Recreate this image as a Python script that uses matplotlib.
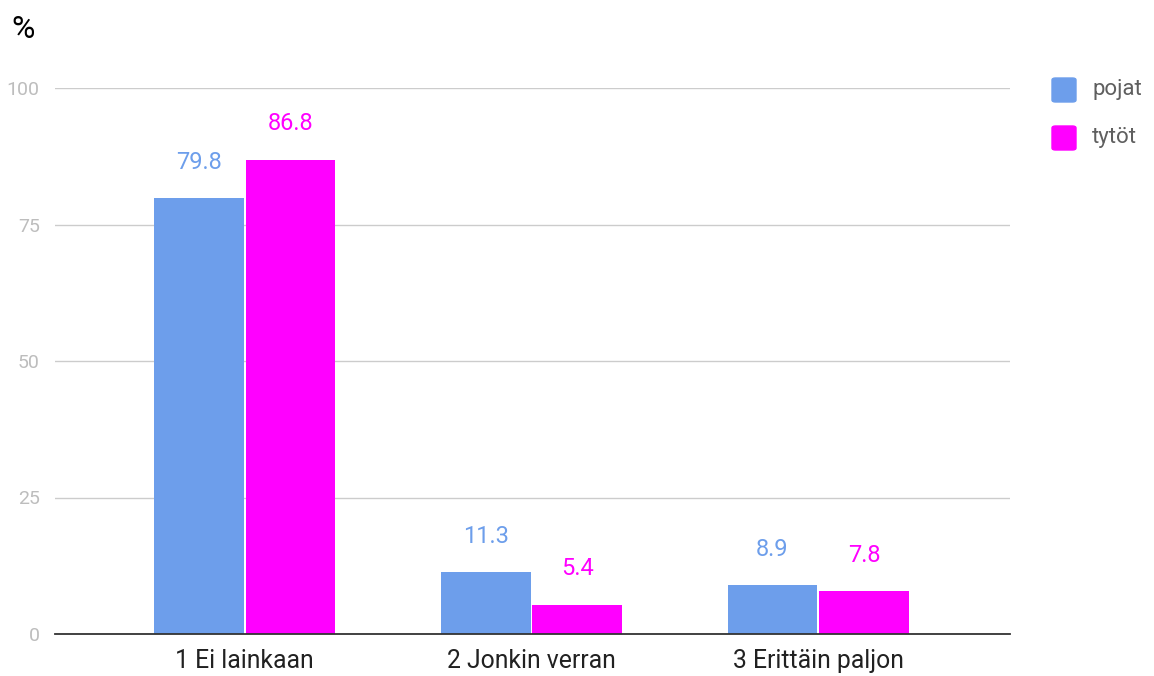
import matplotlib
matplotlib.use("Agg")
import matplotlib.pyplot as plt
from matplotlib.patches import FancyBboxPatch
import numpy as np

plt.rcParams['font.family'] = ['Roboto', 'DejaVu Sans']

categories = ['1 Ei lainkaan', '2 Jonkin verran', '3 Erittäin paljon']
pojat = [79.8, 11.3, 8.9]
tytot = [86.8, 5.4, 7.8]
series_names = ['pojat', 'tytöt']
colors = ['#6d9eeb', '#ff00ff']
yticks = [0, 25, 50, 75, 100]

fig = plt.figure(figsize=(11.54, 6.76), dpi=100)
ax = fig.add_axes([55 / 1154, 1 - 634 / 676, 955 / 1154, 546 / 676])

x = np.arange(len(categories))
w = 0.313
gap = 0.006
for vals, off, col in [(pojat, -(w + gap) / 2, colors[0]), (tytot, (w + gap) / 2, colors[1])]:
    ax.bar(x + off, vals, width=w, color=col, zorder=3)
    for xi, v in zip(x + off, vals):
        ax.annotate(f'{v:.1f}', (xi, v), xytext=(0, 26), textcoords='offset points',
                    ha='center', va='center', fontsize=17, color=col)

ax.set_xlim(-0.662, 2.669)
ax.set_ylim(0, 100)
ax.set_yticks(yticks)
ax.set_yticklabels([str(t) for t in yticks], color='#bdbdbd', fontsize=14)
ax.set_xticks(x)
ax.set_xticklabels(categories, fontsize=17.8, color='#212121')
ax.tick_params(axis='both', length=0)
ax.tick_params(axis='y', pad=11)
ax.tick_params(axis='x', pad=11)
ax.grid(axis='y', color='#cccccc', linewidth=1, zorder=0)
for s in ['top', 'right', 'left']:
    ax.spines[s].set_visible(False)
ax.spines['bottom'].set_color('#333333')
ax.spines['bottom'].set_linewidth(1.3)
ax.spines['bottom'].set_zorder(4)

fig.text(11 / 1154, 1 - 30 / 676, '%', fontsize=23, color='#000000', va='center', ha='left')

# legend
for i, (name, col) in enumerate(zip(series_names, colors)):
    yc = 90 + i * 48
    fig.patches.append(FancyBboxPatch((1052 / 1154, 1 - (yc + 12) / 676), 24 / 1154, 24 / 676,
                                      boxstyle='round,pad=0,rounding_size=0.003',
                                      transform=fig.transFigure, color=col))
    fig.text(1092 / 1154, 1 - yc / 676, name, fontsize=16, color='#5f5f5f', va='center', ha='left')

fig.savefig('out.png', dpi=100)
